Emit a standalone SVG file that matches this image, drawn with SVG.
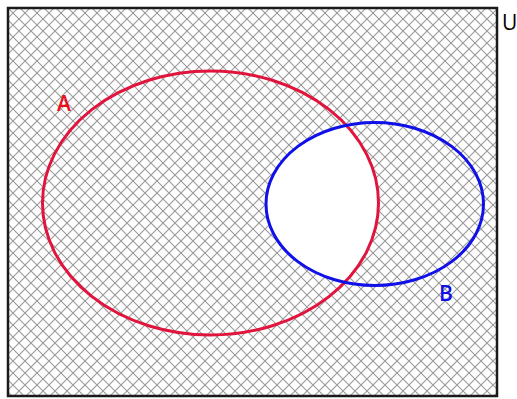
<svg xmlns="http://www.w3.org/2000/svg" width="517" height="399" viewBox="0 0 517 399">
<defs>
<pattern id="hatch" patternUnits="userSpaceOnUse" width="12" height="12" x="7" y="7">
<path d="M0,0 L12,12 M12,0 L0,12" stroke="#999999" stroke-width="1.1" fill="none"/>
</pattern>
<clipPath id="clipA"><ellipse cx="210.5" cy="203" rx="168" ry="132"/></clipPath>
</defs>
<style>
.lbl{font-family:"Open Sans","Liberation Sans",sans-serif;font-size:21px}
</style>
<rect width="517" height="399" fill="#ffffff"/>
<g id="universe">
<rect x="8" y="8" width="489" height="388" fill="url(#hatch)" stroke="#1a1a1a" stroke-width="2.5"/>
<ellipse cx="374.75" cy="204" rx="108.75" ry="81.5" fill="#ffffff" clip-path="url(#clipA)"/>
<text class="lbl" x="502" y="30" fill="#000000">U</text>
</g>
<g id="setA">
<ellipse cx="210.5" cy="203" rx="168" ry="132" fill="none" stroke="#e0143c" stroke-width="3"/>
<text class="lbl" x="57" y="111" fill="#e8101c" font-weight="600">A</text>
</g>
<g id="setB">
<ellipse cx="374.75" cy="204" rx="108.75" ry="81.5" fill="none" stroke="#1010e8" stroke-width="3"/>
<text class="lbl" x="439" y="301" fill="#1010e8" font-weight="600">B</text>
</g>
<g id="connectors"></g>
</svg>
